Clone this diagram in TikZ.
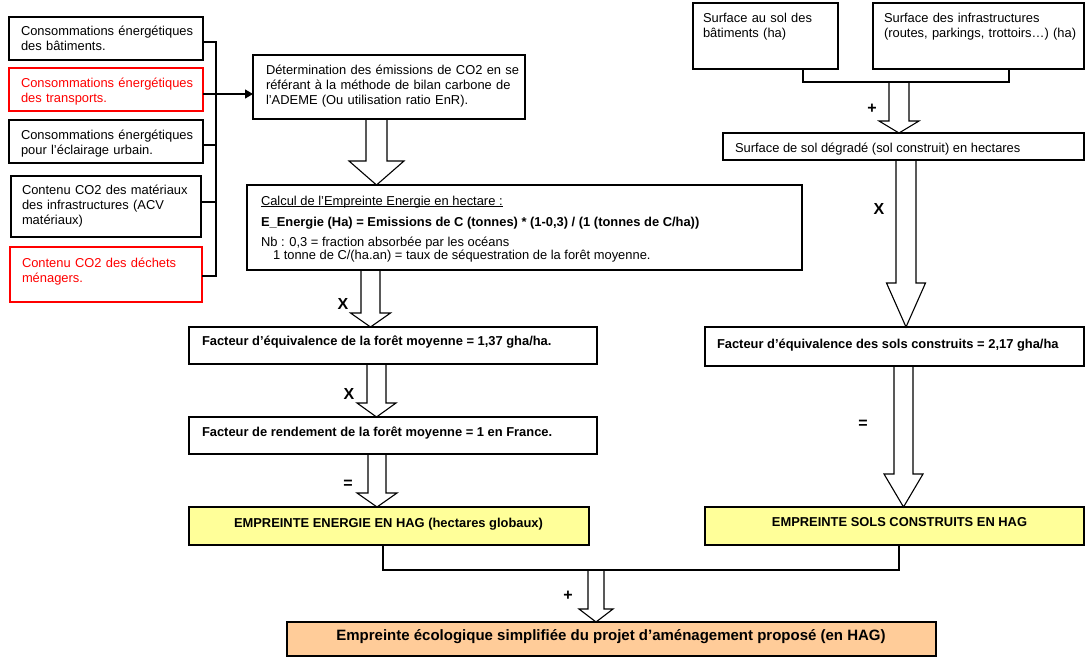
\documentclass[tikz,border=0pt]{standalone}
\usepackage{fontspec}
\setmainfont{Liberation Sans}
\usetikzlibrary{calc,arrows.meta}

\definecolor{boxred}{RGB}{255,0,0}
\definecolor{hagyellow}{RGB}{255,255,153}
\definecolor{hagorange}{RGB}{255,204,153}

\tikzset{
  frame/.style={draw=black, line width=1.1pt, inner sep=0pt, outer sep=0pt, anchor=north west},
  redframe/.style={frame, draw=boxred},
  txt/.style={inner sep=0pt, outer sep=0pt, anchor=base west, align=left,
              font=\fontsize{12.9}{15}\selectfont},
  boldtxt/.style={txt, font=\fontsize{12.9}{15}\selectfont\bfseries},
  optxt/.style={inner sep=0pt, outer sep=0pt, font=\fontsize{16}{16}\selectfont\bfseries},
  link/.style={line width=1.1pt},
  hollow/.style={draw=black, line width=1.1pt, line join=miter},
}

% broad outlined arrow: x, start, target, head length, shaft half width, head half width
\newcommand\hollowarrow[6]{%
  \draw[hollow] (#1-#5,0 |- #2)
    -- ($(#1-#5,0 |- #3)+(0,-#4)$) -- ($(#1-#6,0 |- #3)+(0,-#4)$)
    -- (#1,0 |- #3)
    -- ($(#1+#6,0 |- #3)+(0,-#4)$) -- ($(#1+#5,0 |- #3)+(0,-#4)$)
    -- (#1+#5,0 |- #2);}

\begin{document}
\begin{tikzpicture}[x=1pt, y=-1pt]
\useasboundingbox (0,0) rectangle (1086,658);

% ---------- energy inputs ----------
\node[frame,    minimum width=194pt, minimum height=43pt] (L1) at (9,17) {};
\node[redframe, minimum width=194pt, minimum height=43pt] (L2) at (9,68) {};
\node[frame,    minimum width=194pt, minimum height=43pt] (L3) at (9,120) {};
\node[frame,    minimum width=190pt, minimum height=61pt] (L4) at (11,176) {};
\node[redframe, minimum width=192pt, minimum height=55pt] (L5) at (10,247) {};

\node[txt, text width=185pt] (L1t) at (21,36) {Consommations énergétiques\\des bâtiments.};
\node[txt, text width=185pt, text=boxred] (L2t) at (21,87.5) {Consommations énergétiques\\des transports.};
\node[txt, text width=185pt] (L3t) at (21,139.5) {Consommations énergétiques\\pour l’éclairage urbain.};
\node[txt, text width=185pt] (L4t) at (22,194) {Contenu CO2 des matériaux\\des infrastructures (ACV\\matériaux)};
\node[txt, text width=185pt, text=boxred] (L5t) at (22,267) {Contenu CO2 des déchets\\ménagers.};

% ---------- energy chain ----------
\node[frame, minimum width=272pt, minimum height=64pt] (Det) at (253,55) {};
\node[txt, text width=260pt] (Dett) at (266,75) {Détermination des émissions de CO2 en se\\référant à la méthode de bilan carbone de\\l’ADEME (Ou utilisation ratio EnR).};

\node[frame, minimum width=555pt, minimum height=85pt] (Cal) at (247,185) {};
\node[txt] (Cal1) at (261,205) {\underline{\smash{Calcul de l’Empreinte Energie en hectare :}}};
\node[boldtxt] (Cal2) at (261,226) {E\_Energie (Ha) = Emissions de C (tonnes) * (1-0,3) / (1 (tonnes de C/ha))};
\node[txt] (Cal3) at (261,246) {Nb : 0,3 = fraction absorbée par les océans};
\node[txt] (Cal4) at (273,259) {1 tonne de C/(ha.an) = taux de séquestration de la forêt moyenne.};

\node[frame, minimum width=408pt, minimum height=37pt] (FE) at (189,327) {};
\node[boldtxt] (FEt) at (202,345.5) {Facteur d’équivalence de la forêt moyenne = 1,37 gha/ha.};

\node[frame, minimum width=408pt, minimum height=37pt] (FR) at (189,417) {};
\node[boldtxt] (FRt) at (202,436) {Facteur de rendement de la forêt moyenne = 1 en France.};

\node[frame, fill=hagyellow, minimum width=400pt, minimum height=38pt] (EnE) at (189,507) {};
\node[boldtxt, anchor=base] (EnEt) at (388.5,527) {EMPREINTE ENERGIE EN HAG (hectares globaux)};

% ---------- land chain ----------
\node[frame, minimum width=145pt, minimum height=66pt] (R1) at (693,3) {};
\node[txt, text width=130pt] (R1t) at (703,23) {Surface au sol des\\bâtiments (ha)};
\node[frame, minimum width=211pt, minimum height=66pt] (R2) at (873,3) {};
\node[txt, text width=205pt] (R2t) at (884,23) {Surface des infrastructures\\(routes, parkings, trottoirs…) (ha)};

\node[frame, minimum width=361pt, minimum height=27pt] (S) at (723,133) {};
\node[txt] (St) at (735,152) {Surface de sol dégradé (sol construit) en hectares};

\node[frame, minimum width=379pt, minimum height=39pt] (FS) at (705,327) {};
\node[boldtxt] (FSt) at (717,348) {Facteur d’équivalence des sols construits = 2,17 gha/ha};

\node[frame, fill=hagyellow, minimum width=379pt, minimum height=38pt] (ES) at (705,507) {};
\node[boldtxt, anchor=base] (ESt) at (899.5,526) {EMPREINTE SOLS CONSTRUITS EN HAG};

% ---------- result ----------
\node[frame, fill=hagorange, minimum width=649pt, minimum height=34pt] (Fin) at (287,622) {};
\node[boldtxt, anchor=base, font=\fontsize{15}{17}\selectfont\bfseries] (Fint) at (611,640)
  {Empreinte écologique simplifiée du projet d’aménagement proposé (en HAG)};

% ---------- bracket gathering the inputs ----------
\coordinate (jn) at (216,94);
\draw[link] (L1.east |- 0,42) -- (216,42) -- (216,276) -- (L5.east |- 0,276);
\draw[link] (L2.east |- jn) -- (jn);
\draw[link] (L3.east |- 0,145) -- (216,145);
\draw[link] (L4.east |- 0,202) -- (216,202);
\draw[link, -{Triangle[length=8pt, width=9pt]}] (jn) -- (Det.west |- jn);

% ---------- joining lines ----------
\coordinate (sumR) at (899,82);
\draw[link] (803,0 |- R1.south) -- (803,82) -- (1009,82) -- (1009,0 |- R2.south);
\coordinate (sumF) at (596,570);
\draw[link] (383,0 |- EnE.south) -- (383,570) -- (899,570) -- (899,0 |- ES.south);

% ---------- broad arrows ----------
\hollowarrow{376.5}{Det.south}{Cal.north}{24}{10.5}{27.5}
\hollowarrow{370.5}{Cal.south}{FE.north}{14}{9.5}{20}
\hollowarrow{376.5}{FE.south}{FR.north}{14}{9.5}{19.5}
\hollowarrow{377}{FR.south}{EnE.north}{14}{9}{20}
\hollowarrow{899}{sumR}{S.north}{12}{10}{20}
\hollowarrow{906}{S.south}{FS.north}{44}{10}{19.5}
\hollowarrow{903.5}{FS.south}{ES.north}{33}{9.5}{19.5}
\hollowarrow{596}{sumF}{Fin.north}{13}{8}{17}

% ---------- operators ----------
\node[optxt] (opA) at (343,304) {X};
\node[optxt] (opB) at (349,394) {X};
\node[optxt] (opC) at (348,484) {=};
\node[optxt] (opD) at (872,108.5) {+};
\node[optxt] (opE) at (879,209) {X};
\node[optxt] (opF) at (863,424.5) {=};
\node[optxt] (opG) at (568,596) {+};
\end{tikzpicture}
\end{document}
